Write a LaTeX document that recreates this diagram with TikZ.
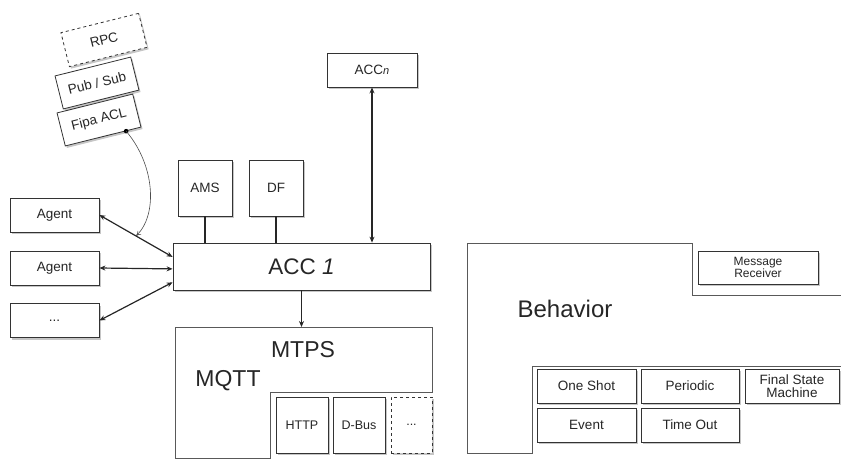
\documentclass[tikz,border=0pt]{standalone}
\usepackage{fontspec}
\setmainfont{Liberation Sans}
\usetikzlibrary{arrows.meta,shadows,calc}
\begin{document}
\begin{tikzpicture}[x=1pt,y=-1pt,
  box/.style={draw=black!80, fill=white, line width=0.8pt, text=black!85,
    drop shadow={shadow xshift=1.6pt, shadow yshift=-2pt, opacity=0.45},
    font=\fontsize{13.5}{15}\selectfont, inner sep=1pt, align=center},
  dbox/.style={box, dashed},
  outline/.style={draw=black!65, line width=0.8pt},
  big/.style={text=black!85, font=\fontsize{23}{26}\selectfont},
  dbl/.style={black!85, line width=1.2pt, {Stealth[length=6pt,width=5pt]}-{Stealth[length=6pt,width=5pt]}},
  one/.style={black!85, line width=1.2pt, -{Stealth[length=6pt,width=5pt]}},
  plain/.style={black!85, line width=1.2pt},
  thin/.style={black!70, line width=0.6pt, -{To[length=5pt,width=5pt]}}]
\useasboundingbox (0,0) rectangle (841,459);

% protocol stack
\node[dbox, rotate=14, minimum width=80pt, minimum height=35pt] (rpc) at (104,40) {RPC};
\node[box, rotate=14, minimum width=78pt, minimum height=34pt] (pubsub) at (97,83) {Pub / Sub};
\node[box, rotate=14, minimum width=78pt, minimum height=34pt] (fipa) at (99,120) {Fipa ACL};

% agents
\node[box, minimum width=89pt, minimum height=34pt] (ag1) at (54.5,215) {Agent};
\node[box, minimum width=89pt, minimum height=34pt] (ag2) at (54.5,268) {Agent};
\node[box, minimum width=89pt, minimum height=34pt] (ag3) at (54.5,320.5) {...};

% ACC
\node[box, minimum width=54pt, minimum height=56pt] (ams) at (205,188) {AMS};
\node[box, minimum width=54pt, minimum height=56pt] (df) at (276,188) {DF};
\node[box, minimum width=90pt, minimum height=34pt] (accn) at (372,70) {ACC{\fontsize{11}{12}\selectfont\itshape n}};
\node[box, minimum width=257pt, minimum height=47pt, font=\fontsize{22.5}{26}\selectfont] (acc) at (301.5,266.5) {ACC \textit{1}};

% MTPS
\draw[outline] (175,327) -- (432,327) -- (432,392) -- (270,392) -- (270,458) -- (175,458) -- cycle;
\coordinate (mtpstop) at (301.5,327);
\node[big] (mtps) at (303,350) {MTPS};
\node[big] (mqtt) at (228,381) {MQTT};
\node[box, minimum width=52pt, minimum height=56pt, font=\fontsize{12.5}{14}\selectfont] (http) at (302,425) {HTTP};
\node[box, minimum width=52pt, minimum height=56pt, font=\fontsize{12.5}{14}\selectfont] (dbus) at (359,425) {D-Bus};
\node[dbox, minimum width=41pt, minimum height=56pt, font=\fontsize{12.5}{14}\selectfont] (more) at (411.5,425) {...};

% Behavior
\draw[outline] (841,295) -- (692,295) -- (692,243) -- (467,243) -- (467,453) -- (532,453) -- (532,366) -- (841,366);
\node[big, font=\fontsize{24}{28}\selectfont] (beh) at (565,309) {Behavior};
\node[box, minimum width=120pt, minimum height=33pt, font=\fontsize{12}{13}\selectfont] (msg) at (758,267.5) {Message\\[-1pt]Receiver};
\node[box, minimum width=99pt, minimum height=34pt] (oneshot) at (586.5,386) {One Shot};
\node[box, minimum width=98pt, minimum height=34pt] (periodic) at (690,386) {Periodic};
\node[box, minimum width=94pt, minimum height=34pt] (fsm) at (792,386) {Final State\\[-2pt]Machine};
\node[box, minimum width=99pt, minimum height=34pt] (event) at (586.5,425) {Event};
\node[box, minimum width=98pt, minimum height=34pt] (timeout) at (690,425) {Time Out};

% connectors
\coordinate (a1) at ($(acc.north west)!0.30!(acc.south west)$);
\coordinate (a2) at ($(acc.north west)!0.55!(acc.south west)$);
\coordinate (a3) at ($(acc.north west)!0.83!(acc.south west)$);
\draw[dbl] (ag1.east) -- coordinate[pos=0.5] (m1) (a1);
\draw[dbl] (ag2.east) -- (a2);
\draw[dbl] (ag3.east) -- (a3);
\draw[dbl] (accn.south) -- (accn.south |- acc.north);
\draw[plain] (ams.south) -- (ams.south |- acc.north);
\draw[plain] (df.south) -- (df.south |- acc.north);
\draw[one] (acc.south) -- (mtpstop);

\coordinate (dot) at ($(fipa.south)!0.6!(fipa.south east)$);
\fill[black] (dot) circle (2.3pt);
\draw[thin] (dot) .. controls (155,165) and (158,215) .. (m1);
\end{tikzpicture}
\end{document}
